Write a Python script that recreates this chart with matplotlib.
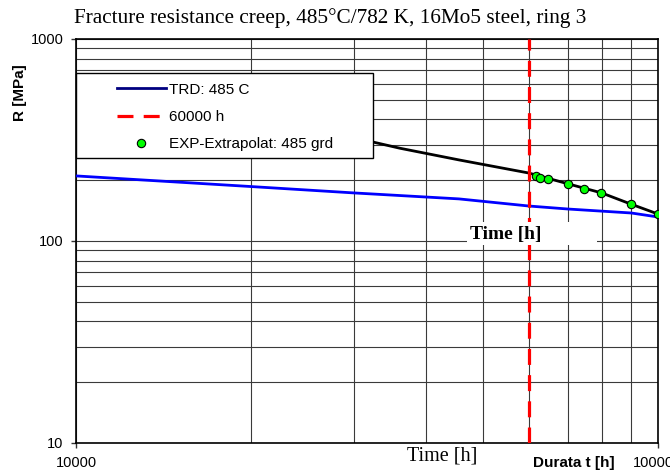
import matplotlib
matplotlib.use("Agg")
import matplotlib.pyplot as plt
from matplotlib.lines import Line2D
from matplotlib.patches import Rectangle
from matplotlib.ticker import LogLocator, NullFormatter, FixedLocator, FixedFormatter

# ---- data ----
trd_t = [10000, 20000, 30000, 45500, 60000, 70000, 90000, 100000]
trd_r = [210, 186, 173, 161.6, 149, 144, 137.6, 131.5]

fit_t = [30000, 36000, 45500, 60000, 70000, 80000, 90000, 100000]
fit_r = [325, 288, 252, 217, 192, 173, 152, 136]

exp_t = [61700, 62700, 64700, 70000, 74600, 79800, 89900, 100000]
exp_r = [210, 205, 203, 191, 181, 173, 152, 136]

limit_t = 60000

xticks = [10000, 100000]
xtick_labels = ["10000", "100000"]
yticks = [10, 100, 1000]
ytick_labels = ["10", "100", "1000"]

title = "Fracture resistance creep, 485°C/782 K, 16Mo5 steel, ring 3"
legend_labels = ["TRD: 485 C", "60000 h", "EXP-Extrapolat: 485 grd"]

SANS = "Liberation Sans"
SERIF = "Liberation Serif"

fig = plt.figure(figsize=(6.70, 4.71), dpi=100)
W, H = 670, 471
ax = fig.add_axes([76 / W, 1 - 443 / H, 582 / W, 404 / H])
ax.set_xscale("log")
ax.set_yscale("log")
ax.set_xlim(10000, 100000)
ax.set_ylim(10, 1000)

# grid
ax.xaxis.set_minor_locator(LogLocator(base=10, subs=range(2, 10)))
ax.yaxis.set_minor_locator(LogLocator(base=10, subs=range(2, 10)))
ax.xaxis.set_minor_formatter(NullFormatter())
ax.yaxis.set_minor_formatter(NullFormatter())
ax.grid(True, which="both", color="#3a3a3a", linewidth=0.8, zorder=1)
ax.set_axisbelow(True)
ax.tick_params(which="minor", length=0)

ax.xaxis.set_major_locator(FixedLocator(xticks))
ax.xaxis.set_major_formatter(FixedFormatter(xtick_labels))
ax.yaxis.set_major_locator(FixedLocator(yticks))
ax.yaxis.set_major_formatter(FixedFormatter(ytick_labels))
ax.tick_params(which="major", direction="out", length=3.5, width=1.0, labelsize=10.5, color="#333333")
ax.tick_params(axis="x", which="major", pad=6)
ax.tick_params(axis="y", which="major", pad=5.5)
for lab in ax.get_xticklabels() + ax.get_yticklabels():
    lab.set_fontfamily(SANS)
for s in ax.spines.values():
    s.set_color("black")
    s.set_linewidth(1.2)

# series
ax.plot(trd_t, trd_r, color="#0000ff", linewidth=2.0, zorder=3)
ax.plot(fit_t, fit_r, color="black", linewidth=2.0, zorder=3)
ax.axvline(limit_t, color="#ff0000", linewidth=2.3, dashes=(5.0, 3.2), zorder=4)
ax.plot(exp_t, exp_r, linestyle="none", marker="o", markersize=6,
        markerfacecolor="#00ff00", markeredgecolor="black", markeredgewidth=0.8, zorder=6)

# legend frame (manual) and legend entries
ax.add_patch(Rectangle((0, (443 - 158) / 404), (373 - 76) / 582, (158 - 73) / 404,
                       transform=ax.transAxes, facecolor="white", edgecolor="black",
                       linewidth=1.0, zorder=7, clip_on=False))
handles = [
    Line2D([], [], color="#000080", linewidth=2.0),
    Line2D([], [], color="#ff0000", linewidth=2.3, dashes=(5.0, 3.2)),
    Line2D([], [], linestyle="none", marker="o", markersize=6,
           markerfacecolor="#00ff00", markeredgecolor="black", markeredgewidth=0.8),
]
leg = ax.legend(handles, legend_labels, loc="upper left",
                bbox_to_anchor=((117 - 76) / 582, (443 - 82.5) / 404),
                frameon=False, borderpad=0, borderaxespad=0,
                handlelength=3.2, handletextpad=0.2, labelspacing=0.88,
                prop={"family": SANS, "size": 11})
leg.set_zorder(8)

# white box with bold axis title inside the plot
fig.patches.append(Rectangle((467 / W, 1 - 245 / H), 130 / W, 23 / H,
                             transform=fig.transFigure, facecolor="white",
                             edgecolor="none", zorder=5))
fig.text(470 / W, 1 - 234 / H, "Time [h]", family=SERIF, fontsize=14, fontweight="bold",
         ha="left", va="center", zorder=6)

# other texts
fig.text(330 / W, 1 - 18 / H, title, family=SERIF, fontsize=15.3, ha="center", va="center")
fig.text(20 / W, 1 - 93 / H, "R [MPa]", family=SANS, fontsize=11, fontweight="bold",
         rotation=90, ha="center", va="center")
fig.text(442 / W, 1 - 456 / H, "Time [h]", family=SERIF, fontsize=14.5, ha="center", va="center")
fig.text(574 / W, 1 - 463 / H, "Durata t [h]", family=SANS, fontsize=11, fontweight="bold",
         ha="center", va="center")

fig.savefig("out.png", dpi=100)
